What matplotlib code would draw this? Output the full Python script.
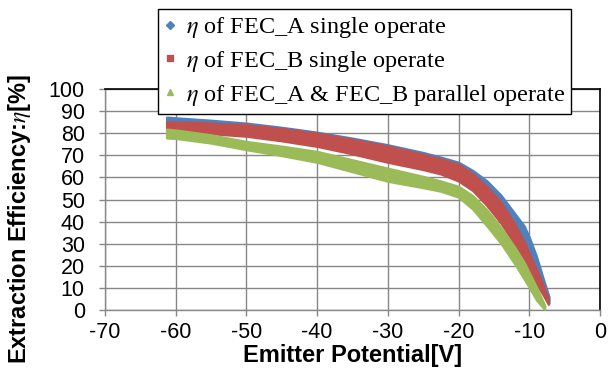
import matplotlib.pyplot as plt
from matplotlib.lines import Line2D

plt.rcParams['font.family'] = ['Liberation Sans', 'DejaVu Sans']
plt.rcParams['mathtext.fontset'] = 'stix'
plt.rcParams['axes.unicode_minus'] = False

x_a = [-61.3, -60, -55, -50, -45, -40, -35, -30, -25, -22.5, -20, -18, -16, -14, -12, -10.7, -10, -9, -8, -7.2]
a_hi = [87.3, 87.0, 85.9, 84.6, 82.7, 80.5, 77.8, 74.8, 71.3, 69.2, 66.9, 63.2, 58.5, 52.0, 43.5, 38.0, 33.0, 24.5, 14.0, 6.0]
a_lo = [82.5, 82.3, 81.3, 80.0, 78.0, 75.5, 72.5, 69.0, 65.0, 63.0, 60.0, 56.0, 50.0, 42.0, 32.0, 25.0, 21.0, 14.0, 7.0, 3.0]

x_b = [-61.3, -60, -55, -50, -45, -40, -35, -30, -25, -22.5, -20, -18, -16, -14, -12, -10.7, -10, -9, -8, -7.3]
b_hi = [85.4, 85.2, 84.6, 83.9, 82.2, 80.1, 77.3, 74.3, 70.5, 68.4, 66.0, 61.7, 56.0, 48.8, 38.7, 30.8, 25.7, 18.5, 11.0, 5.0]
b_lo = [80.9, 80.6, 79.7, 78.6, 76.5, 74.0, 70.6, 66.8, 63.5, 61.5, 58.3, 54.0, 47.2, 39.2, 29.0, 21.5, 17.6, 11.9, 6.5, 2.5]

x_ab = [-61.3, -60, -55, -50, -45, -40, -35, -30, -25, -22.5, -20, -18, -16, -14, -12, -10.7, -10, -9, -8, -7.8]
ab_hi = [81.9, 81.5, 79.3, 76.3, 74.2, 71.8, 68.0, 64.2, 60.5, 58.4, 56.0, 51.8, 45.4, 37.5, 28.2, 21.5, 17.0, 10.5, 3.5, 2.0]
ab_lo = [77.8, 77.6, 75.5, 72.5, 69.8, 66.8, 62.5, 58.2, 55.3, 53.7, 51.0, 45.6, 38.0, 30.0, 20.5, 13.8, 10.1, 4.5, 0.8, 0.3]

labels = [r'$\eta$ of FEC_A single operate',
          r'$\eta$ of FEC_B single operate',
          r'$\eta$ of FEC_A & FEC_B parallel operate']
colors = ['#4F81BD', '#C0504D', '#9BBB59']
markers = ['D', 's', '^']

fig = plt.figure(figsize=(6.16, 3.8), dpi=100)
ax = fig.add_axes([105 / 616, 70 / 380, 495 / 616, 221 / 380])

series = [(x_a, a_hi, a_lo), (x_b, b_hi, b_lo), (x_ab, ab_hi, ab_lo)]
for (xs, hi, lo), c in zip(series, colors):
    ax.fill_between(xs, lo, hi, color=c, edgecolor=c, linewidth=1.5, zorder=3)

ax.set_xlim(-70, 0)
ax.set_ylim(0, 100)
ax.set_xticks(range(-70, 1, 10))
ax.set_yticks(range(0, 101, 10))
ax.grid(True, color='#878787', linewidth=1.0)
ax.set_axisbelow(True)
ax.tick_params(axis='both', direction='out', length=4.5, width=1.0, color='#878787',
               labelsize=15.5)
ax.tick_params(axis='y', pad=10)
ax.tick_params(axis='x', pad=4)
for side in ['left', 'bottom']:
    ax.spines[side].set_color('#878787')
    ax.spines[side].set_linewidth(1.0)
for side in ['top', 'right']:
    ax.spines[side].set_color('black')
    ax.spines[side].set_linewidth(1.2)

ax.set_xlabel('Emitter Potential[V]', fontsize=17, fontweight='bold', labelpad=1)
ax.set_ylabel(r'Extraction Efficiency:$\eta$[%]', fontsize=17, fontweight='bold')
# excel puts the title a bit below the plot centre
ax.yaxis.set_label_coords(-(105 - 33) / 495, 0.414)

handles = [Line2D([], [], linestyle='none', marker=m, color=c, markersize=4)
           for m, c in zip(markers, colors)]
leg = ax.legend(handles, labels, loc='upper left', bbox_to_anchor=(158 / 616, 1 - 9 / 380),
                bbox_transform=fig.transFigure, borderaxespad=0, frameon=True, fancybox=False,
                framealpha=1, edgecolor='black', prop={'family': 'Liberation Serif', 'size': 17.5},
                handlelength=0.5, handletextpad=0.4, labelspacing=0.36, borderpad=0.25)
leg.get_frame().set_linewidth(1.0)
leg.set_zorder(10)

fig.savefig('out.png', dpi=100)
